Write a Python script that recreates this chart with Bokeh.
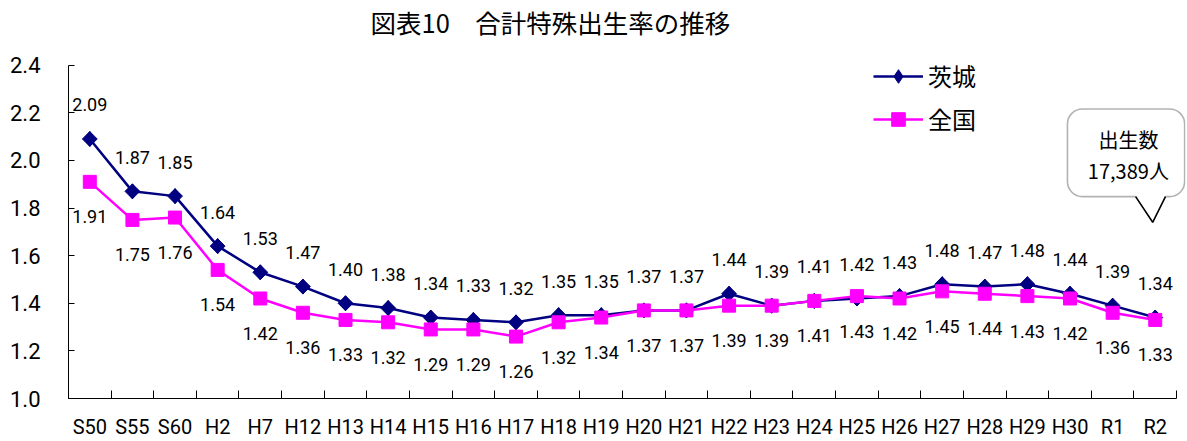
import math
from bokeh.plotting import figure
from bokeh.models import (Range1d, FixedTicker, Legend, LegendItem, BoxAnnotation, Label)
from bokeh.core.properties import value
from bokeh.embed import file_html
from bokeh.resources import INLINE

categories = ["S50", "S55", "S60", "H2", "H7", "H12", "H13", "H14", "H15", "H16", "H17",
              "H18", "H19", "H20", "H21", "H22", "H23", "H24", "H25", "H26", "H27", "H28",
              "H29", "H30", "R1", "R2"]
ibaraki = [2.09, 1.87, 1.85, 1.64, 1.53, 1.47, 1.40, 1.38, 1.34, 1.33, 1.32,
           1.35, 1.35, 1.37, 1.37, 1.44, 1.39, 1.41, 1.42, 1.43, 1.48, 1.47,
           1.48, 1.44, 1.39, 1.34]
national = [1.91, 1.75, 1.76, 1.54, 1.42, 1.36, 1.33, 1.32, 1.29, 1.29, 1.26,
            1.32, 1.34, 1.37, 1.37, 1.39, 1.39, 1.41, 1.43, 1.42, 1.45, 1.44,
            1.43, 1.42, 1.36, 1.33]
y_ticks = [1.0, 1.2, 1.4, 1.6, 1.8, 2.0, 2.2, 2.4]
series_names = ["茨城", "全国"]
callout_lines = ["出生数", "17,389人"]
title_text = "図表10　合計特殊出生率の推移"

NUM = "Roboto"
CJK = "Noto Sans CJK JP"
NAVY = "#000080"
PINK = "#FF00FF"

xs = list(range(len(categories)))

# frame spans the full height above the x axis; the y axis line is bounded to 1.0-2.4
p = figure(width=1187, height=441, output_backend="svg", toolbar_location=None,
           x_range=Range1d(-0.5, 25.71), y_range=Range1d(1.0, 2.6716),
           min_border_left=68, min_border_right=2, min_border_top=0, min_border_bottom=41)
p.outline_line_color = None
p.xgrid.visible = False
p.ygrid.visible = False

# title
p.add_layout(Label(x=6.587, y=2.582, text=title_text, text_font=CJK, text_font_size="25.5px",
                   text_align="left", text_baseline="middle", text_color="black"))

# x axis
xa = p.xaxis[0]
xa.ticker = FixedTicker(ticks=xs, minor_ticks=[i - 0.5 for i in range(len(categories) + 1)])
xa.major_label_overrides = {i: c for i, c in enumerate(categories)}
xa.major_tick_line_color = None
xa.minor_tick_in = 8
xa.minor_tick_out = 0
xa.minor_tick_line_color = "black"
xa.bounds = (-0.5, len(categories) - 0.5)
xa.axis_line_color = "black"
xa.major_label_text_font = NUM
xa.major_label_text_font_size = "20px"
xa.major_label_text_color = "black"
xa.major_label_standoff = 10

# y axis
ya = p.yaxis[0]
ya.ticker = FixedTicker(ticks=y_ticks)
ya.major_label_overrides = {t: f"{t:.1f}" for t in y_ticks}
ya.major_tick_in = 6
ya.major_tick_out = 0
ya.minor_tick_line_color = None
ya.axis_line_color = "black"
ya.bounds = (y_ticks[0], y_ticks[-1])
ya.major_label_text_font = NUM
ya.major_label_text_font_size = "22px"
ya.major_label_text_color = "black"
ya.major_label_standoff = 28

# callout box (annotation)
box = BoxAnnotation(left=22.94, right=25.69, top=2.216, bottom=1.848,
                    fill_color="white", fill_alpha=1.0, line_color="black", line_width=1.6,
                    border_radius=15, level="underlay")
p.add_layout(box)
p.patch([24.52, 24.94, 25.26], [1.861, 1.740, 1.861], fill_color="white", line_color=None)
p.line([24.54, 24.94, 25.24], [1.848, 1.740, 1.848], line_color="black", line_width=1.6)
p.add_layout(Label(x=24.37, y=2.087, text=callout_lines[0], text_font=CJK, text_font_size="20px",
                   text_align="center", text_baseline="middle", text_color="black"))
p.add_layout(Label(x=24.37, y=1.957, text=callout_lines[1], text_font=CJK, text_font_size="20px",
                   text_align="center", text_baseline="middle", text_color="black"))

# series
l1 = p.line(xs, ibaraki, line_color=NAVY, line_width=2.5)
d1 = p.scatter(xs, ibaraki, marker="diamond", size=15, fill_color=NAVY, line_color=NAVY)
s1 = p.scatter(xs, ibaraki, marker="square", angle=math.pi / 4, size=10.5,
               fill_color=NAVY, line_color=NAVY)
l2 = p.line(xs, national, line_color=PINK, line_width=2.5)
s2 = p.scatter(xs, national, marker="square", size=13, fill_color=PINK, line_color=PINK)

p.text(xs, ibaraki, text=[f"{v:.2f}" for v in ibaraki], text_font=value(NUM),
       text_font_size="18px", text_align="center", text_baseline="middle",
       y_offset=-34, text_color="black")
p.text(xs, national, text=[f"{v:.2f}" for v in national], text_font=value(NUM),
       text_font_size="18px", text_align="center", text_baseline="middle",
       y_offset=35, text_color="black")

legend = Legend(items=[LegendItem(label=series_names[0], renderers=[l1, d1]),
                       LegendItem(label=series_names[1], renderers=[l2, s2])],
                location=(805, 262), orientation="vertical",
                glyph_width=50, glyph_height=34, label_height=34, spacing=8,
                label_standoff=5, padding=0, margin=0,
                background_fill_alpha=0, border_line_color=None,
                label_text_font=CJK, label_text_font_size="24px", label_text_color="black")
p.add_layout(legend)

open("out.html", "w").write(file_html(p, INLINE))
